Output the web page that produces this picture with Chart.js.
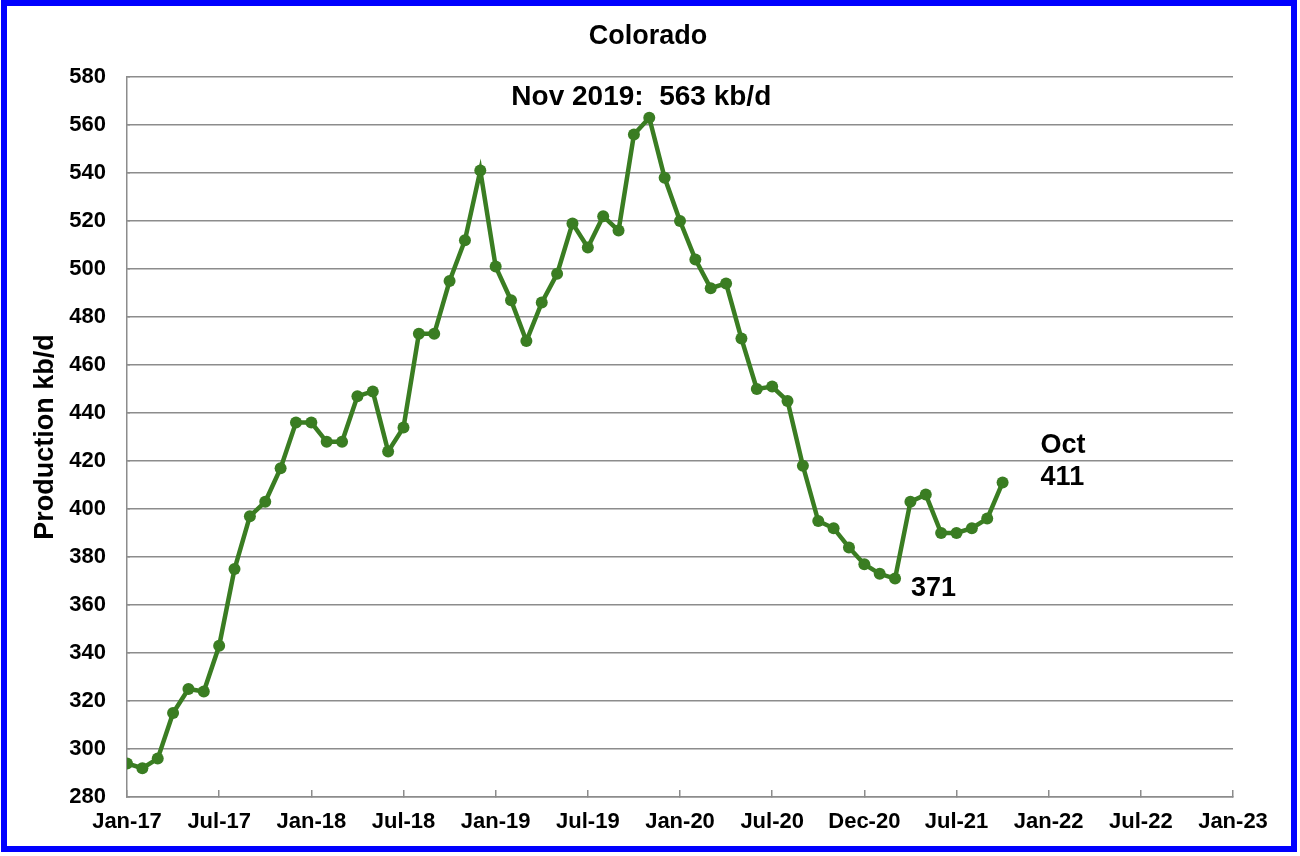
<!DOCTYPE html>
<html>
<head>
<meta charset="utf-8">
<script src="https://cdn.jsdelivr.net/npm/chart.js@4"></script>
<style>
  html, body { margin: 0; padding: 0; background: #fff; }
  #wrap { width: 1300px; height: 856px; }
</style>
</head>
<body>
<div id="wrap"><canvas id="chart" width="1300" height="856"></canvas></div>
<script>
(function () {
  // monthly Colorado oil production, Jan 2017 .. Oct 2021 (kb/d)
  const START_MONTH = "Jan-17";
  const PRODUCTION = [
    294, 292, 296, 315, 325, 324, 343, 375, 397, 403, 417, 436,
    436, 428, 428, 447, 449, 424, 434, 473, 473, 495, 512, 541,
    501, 487, 470, 486, 498, 519, 509, 522, 516, 556, 563, 538,
    520, 504, 492, 494, 471, 450, 451, 445, 418, 395, 392, 384,
    377, 373, 371, 403, 406, 390, 390, 392, 396, 411,
  ];
  const X_TICK_LABELS = [
    "Jan-17", "Jul-17", "Jan-18", "Jul-18", "Jan-19", "Jul-19", "Jan-20",
    "Jul-20", "Dec-20", "Jul-21", "Jan-22", "Jul-22", "Jan-23",
  ];
  const Y_MIN = 280, Y_MAX = 580, Y_STEP = 20;
  const PEAK_INDEX = 34;   // Nov 2019
  const LOW_INDEX = 50;    // Mar 2021
  const LAST_INDEX = PRODUCTION.length - 1;

  const GREEN = "#3a7d22";
  const GRID = "#8c8c8c";
  const FONT = "'Liberation Sans', Arial, Helvetica, sans-serif";

  const points = PRODUCTION.map((v, i) => ({ x: i, y: v }));

  const frame = {
    id: "frame",
    beforeDraw(chart) {
      const ctx = chart.ctx;
      ctx.save();
      ctx.fillStyle = "#fff";
      ctx.fillRect(0, 0, chart.width, chart.height);
      ctx.strokeStyle = "#0000ff";
      ctx.lineWidth = 6;
      ctx.strokeRect(4, 3, 1290, 846);
      ctx.fillStyle = "#000";
      ctx.font = "bold 27px " + FONT;
      ctx.textAlign = "center";
      ctx.textBaseline = "middle";
      ctx.fillText("Colorado", 648, 37);
      ctx.restore();
    },
  };

  const notes = {
    id: "notes",
    afterDatasetsDraw(chart) {
      const ctx = chart.ctx;
      const xs = chart.scales.x, ys = chart.scales.y;
      const at = (i) => ({ x: xs.getPixelForValue(i), y: ys.getPixelForValue(PRODUCTION[i]) });
      ctx.save();
      ctx.fillStyle = "#000";
      ctx.font = "bold 27px " + FONT;
      ctx.textBaseline = "middle";

      const peak = at(PEAK_INDEX);
      ctx.textAlign = "center";
      ctx.font = "bold 28px " + FONT;
      ctx.fillText("Nov 2019:  " + PRODUCTION[PEAK_INDEX] + " kb/d", peak.x - 8, peak.y - 21);

      ctx.font = "bold 27px " + FONT;
      const low = at(LOW_INDEX);
      ctx.textAlign = "left";
      ctx.fillText(String(PRODUCTION[LOW_INDEX]), low.x + 16, low.y + 10);

      const last = at(LAST_INDEX);
      ctx.fillText("Oct", last.x + 38, last.y - 37);
      ctx.fillText(String(PRODUCTION[LAST_INDEX]), last.x + 38, last.y - 5);
      ctx.restore();
    },
  };

  new Chart(document.getElementById("chart"), {
    type: "line",
    data: {
      datasets: [{
        label: "Colorado from " + START_MONTH,
        data: points,
        borderColor: GREEN,
        backgroundColor: GREEN,
        borderWidth: 4.5,
        pointRadius: 6,
        pointBackgroundColor: GREEN,
        pointBorderWidth: 0,
        tension: 0,
      }],
    },
    options: {
      responsive: false,
      animation: false,
      devicePixelRatio: 1,
      layout: { padding: { top: 77, right: 67, left: 0, bottom: 0 } },
      plugins: { legend: { display: false }, tooltip: { enabled: false }, title: { display: false } },
      scales: {
        x: {
          type: "linear",
          min: 0,
          max: (X_TICK_LABELS.length - 1) * 6,
          afterFit(scale) { scale.height = 59; },
          ticks: {
            stepSize: 6,
            autoSkip: false,
            maxRotation: 0,
            color: "#000",
            padding: 19,
            font: { family: FONT, size: 22, weight: "bold" },
            callback: (v) => X_TICK_LABELS[v / 6],
          },
          grid: { drawOnChartArea: false, tickLength: -7, color: GRID, lineWidth: 1.5 },
          border: { color: GRID, width: 1.5 },
        },
        y: {
          min: Y_MIN,
          max: Y_MAX,
          afterFit(scale) { scale.width = 127; },
          ticks: {
            stepSize: Y_STEP,
            color: "#000",
            padding: 24,
            font: { family: FONT, size: 22, weight: "bold" },
          },
          grid: { color: GRID, lineWidth: 1.5, tickLength: -3 },
          border: { color: GRID, width: 1.5 },
          title: {
            display: true,
            text: "Production kb/d",
            color: "#000",
            font: { family: FONT, size: 27, weight: "bold" },
            padding: { top: 29, bottom: 0 },
          },
        },
      },
    },
    plugins: [frame, notes],
  });
})();
</script>
</body>
</html>
